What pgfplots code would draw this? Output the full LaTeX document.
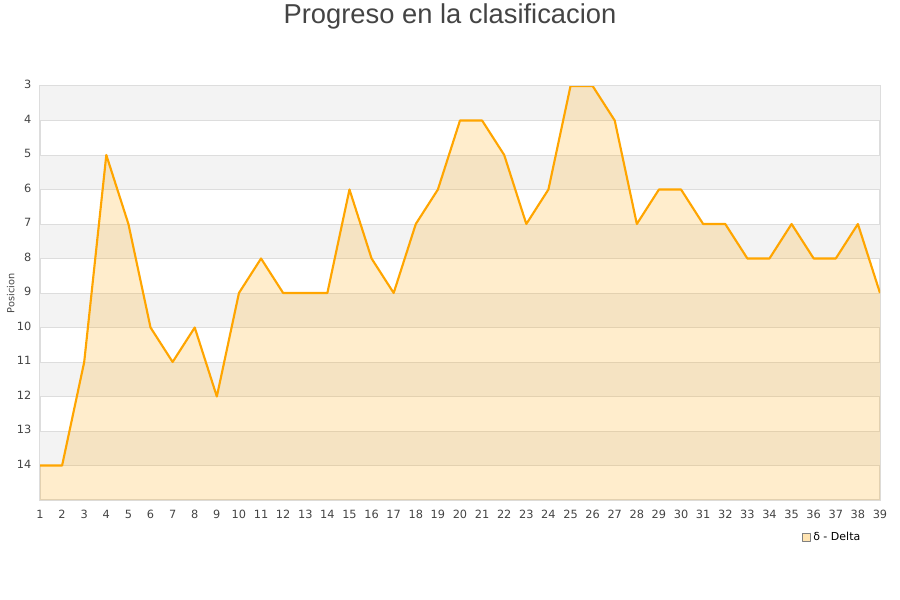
\documentclass[border=0pt]{standalone}
\usepackage{fontspec}
\setmainfont{DejaVu Sans}
\newfontfamily\titlefont{Liberation Sans}
\usepackage{pgfplots}
\pgfplotsset{compat=1.18}
\definecolor{txt}{HTML}{444444}
\definecolor{band}{HTML}{F3F3F3}
\definecolor{gridc}{HTML}{DDDDDD}
\definecolor{line}{HTML}{FFA500}
\pgfplotstableread{
x y
1 14
2 14
3 11
4 5
5 7
6 10
7 11
8 10
9 12
10 9
11 8
12 9
13 9
14 9
15 6
16 8
17 9
18 7
19 6
20 4
21 4
22 5
23 7
24 6
25 3
26 3
27 4
28 7
29 6
30 6
31 7
32 7
33 8
34 8
35 7
36 8
37 8
38 7
39 9
}\posdata
\begin{document}
\begin{tikzpicture}
\useasboundingbox (0pt,0pt) rectangle (675pt,450pt);
\node[font=\titlefont\fontsize{20.5}{22}\selectfont, text=txt] at (337.5pt,437.5pt) {Progreso en la clasificacion};
\node[font=\fontsize{7.3}{8}\selectfont, text=txt, rotate=90] at (8pt,230pt) {Posicion};
\begin{axis}[
    at={(30pt,75pt)}, anchor=south west,
    scale only axis,
    width=630pt, height=310.5pt,
    xmin=1, xmax=39,
    ymin=3, ymax=15,
    y dir=reverse,
    xtick={1,...,39},
    ytick={3,...,14},
    major tick length=0pt,
    axis line style={draw=gridc, line width=0.8pt},
    ticklabel style={font=\fontsize{8.5}{9}\selectfont, text=txt},
    /pgf/number format/assume math mode=true,
    xticklabel style={yshift=-4pt},
    yticklabel style={xshift=-3pt, yshift=1pt},
    legend style={at={(0.902,-0.09)}, anchor=west, draw=none, fill=none,
        font=\fontsize{8.25}{9}\selectfont},
    legend cell align=left,
    legend image code/.code={\draw[fill=line!30, draw=gray, line width=0.5pt] (0pt,-3pt) rectangle (6pt,3pt);},
]
% alternating background bands and horizontal grid
\pgfplotsinvokeforeach{3,5,7,9,11,13}{
    \fill[band] (axis cs:1,#1) rectangle (axis cs:39,#1+1);
}
\pgfplotsinvokeforeach{4,...,14}{
    \draw[gridc, line width=0.6pt] (axis cs:1,#1) -- (axis cs:39,#1);
}
\addplot[fill=line, fill opacity=0.2, draw=none, forget plot] table[x=x,y=y] {\posdata} -- (axis cs:39,15) -- (axis cs:1,15) -- cycle;
\addplot[line, line width=1.6pt, line join=round] table[x=x,y=y] {\posdata};
\legend{δ - Delta}
\end{axis}
\end{tikzpicture}
\end{document}
